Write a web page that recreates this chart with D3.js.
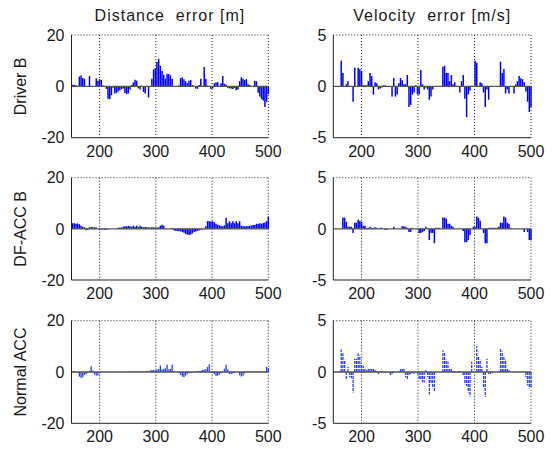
<!DOCTYPE html>
<html>
<head>
<meta charset="utf-8">
<script src="https://cdn.jsdelivr.net/npm/d3@7"></script>
<style>
  body { margin: 0; background: #fff; }
  svg text { font-family: "Liberation Sans", Arial, sans-serif; fill: #1a1a1a; }
</style>
</head>
<body>
<svg class="chart"></svg>
<script>
// sample times (s), one stem every 3 s
var times = d3.range(152, 501, 3);

var colTitles = ["Distance  error [m]", "Velocity  error [m/s]"];
var rowLabels = ["Driver B", "DF-ACC B", "Normal ACC"];
var xTicks = [200, 300, 400, 500];
var distTicks = [-20, 0, 20];
var velTicks = [-5, 0, 5];

var distDriver = [
    0.6, 0.6, 0.4, 0, 3.8, 4.2, 3.2, 3.0, 0, 0,
    4.0, 0, 0, 0, 3.1, 2.2, 2.8, 2.5, 0.3, 0,
    -1, -4.8, -5, -3.5, -0.5, -2.8, -2.5, -2.0, -1.5, -1,
    -0.8, -2.6, -3, -2.8, -1.2, 0.5, 1.5, 2.6, 2.2, -0.8,
    -1.2, 0, -2.2, -2.8, 0, -4.3, 0, 3, 6.6, 7,
    9.5, 10.7, 8, 6, 4.5, 3, 4.9, 4.8, 4.3, 3.0,
    0, 0, 0, 0.3, 3.2, 3.5, 2.8, 2.0, 1.2, 2.2,
    2.5, 0.5, 0, -0.8, -1, 0.5, 3, 0, 7.5, 3,
    0.3, 0, -1, -0.8, 1.2, 1.5, 1.6, 0.2, 1.2, 4,
    1.0, 0.6, -0.5, -0.8, -0.8, -1, -0.6, -1.5, -1.2, 2,
    3.5, 3, 2.5, 2.8, 0.8, 0.5, 0, 0, 2.2, 2.0,
    -2.5, -4, -5, -5.5, -8, -6, -3
];

var velDriver = [
    0, 0, 0, 0, 2.5, 1.3, 0, 0.2, 0.5, 0,
    0, -1.5, 1.8, 0, 1.8, 1.7, 1.5, 0.1, 0.1, 0.1,
    0.5, 1.3, 1.0, -0.8, 0.4, 0.3, -0.3, -0.2, -0.1, 0.1,
    0.1, 0, 0, 0, -1.0, 0.8, -1.0, -0.8, 0.3, 0.8,
    0.6, 0.2, 0.2, 1.1, -2.0, -1.8, -0.8, -0.6, 0.1, -0.8,
    -0.8, 1.6, 0.2, -0.3, -0.1, -0.3, -1.3, -1.0, -0.3, 0,
    0, 0, 0, 0, 1.9, 2.0, 1.3, 1.3, 0.5, 1.1,
    0.2, 0.4, 0, 0, -0.6, 0.5, 1.1, -1.2, -3.0, -0.8,
    -0.4, 0, 0, 2.5, 2.3, 0, 0.4, 0.3, -0.6, -2.0,
    -0.3, -1.3, 0, 0, 0, 0, 0, 0, 2.4, 1.3,
    1.7, -0.7, -0.3, -0.7, 0, 0, -0.7, 0.2, 0.5, 1.0,
    0.8, 0.7, 0.4, -0.5, -1.5, -2.5, -2.0
];

var distDfacc = [
    2.2, 2.2, 2.0, 2.1, 1.8, 1.2, 0.8, 0.6, -0.5, -0.4,
    0.6, 0.7, 0.6, 0.6, 0.5, 0, -0.3, -0.2, -0.3, -0.4,
    -0.3, -0.2, 0, 0, 0, 0, 0.2, 0.4, 0.5, 0.5,
    0.8, 1.0, 1.0, 1.1, 1.0, 0.8, 1.2, 0.8, 1.2, 0.7,
    1.2, 0.8, 0.6, 0.7, 0.6, 0.6, 0.5, 0.6, 0.6, 0.5,
    0.5, 0.6, 1.2, 1.6, 1.2, 0, 0, 0, 0.1, 0.3,
    -0.5, -0.8, -0.8, -0.9, -1.0, -1.2, -1.5, -2.0, -2.2, -2.4,
    -2.2, -1.8, -1.2, -1.0, -0.8, -0.6, -0.3, -0.3, -0.2, 1.0,
    3.0, 3.0, 2.9, 3.0, 2.6, 2.0, 1.6, 1.4, 1.2, 1.0,
    1.4, 4.3, 2.2, 3.0, 2.2, 3.0, 2.2, 3.0, 2.2, 3.0,
    1.2, 1.0, 1.0, 1.0, 1.1, 1.2, 1.3, 1.5, 1.5, 2.0,
    2.0, 2.2, 2.0, 2.3, 2.5, 3.0, 4.8
];

var velDfacc = [
    0, 0, 0, 0, 0, 1.1, 1.1, 0.7, 0.2, 0.2,
    0.2, -0.4, 0.6, 0.6, 0.9, 0.8, 0.7, 0.3, 0.3, 0.1,
    0.1, 0.2, 0.1, 0.1, 0.15, 0.1, 0, 0.1, 0.1, 0,
    -0.1, -0.1, 0, 0, 0, 0.2, 0, 0, 0, 0,
    0.25, 0.25, 0.2, 0.1, -0.3, -0.3, 0.1, 0, 0, 0,
    -0.4, -0.4, -0.3, -0.2, 0.2, 0, -1.1, -0.4, -0.4, -1.4,
    0.1, 0.1, 0.1, 0, 1.1, 1.1, 1.0, 0.5, 0.5, 0.3,
    0.2, 0, 0, 0, 0, 0, -0.2, -1.3, -1.3, -1.1,
    -0.6, 0, 0.2, 0.2, 1.2, 1.1, 0.8, 0, -0.4, -1.4,
    -1.4, 0.1, 0.1, 0.1, 0.1, 0.1, 0.1, 0.2, 0.6, 0.6,
    1.2, 1.1, 0.6, 0.5, 0.1, 0, 0, 0, 0, 0,
    0, 0, -0.3, 0, -0.3, -1.1, -1.1
];

var distNormal = [
    0.3, 0.3, 0.2, -0.3, -1.8, -2.3, -2.0, -1.2, -0.8, -0.3,
    0.5, 2.2, 0.6, -1.0, -1.5, -1.4, -0.5, 0.2, 0.1, 0.1,
    0, 0, 0.1, 0.1, 0, -0.1, -0.1, 0, 0.1, 0.1,
    0.1, 0, 0, -0.1, 0.1, 0.1, 0.2, 0.2, 0.1, 0.1,
    0.1, 0.2, 0.2, 0.3, 0.5, 0.3, 0.6, 0.8, 0.8, 0.7,
    1.0, 1.2, 2.5, 1.0, 1.2, 1.5, 2.8, 1.0, 1.2, 2.8,
    0.1, 0, 0, -0.3, -1.2, -1.8, -2.0, -1.4, -0.8, -0.5,
    -0.4, -0.3, 0.1, 0.2, 0.3, 0.4, 0.5, 0.8, 1.0, 1.2,
    2.0, 3.0, -0.3, -0.4, -0.8, -1.6, -1.5, -1.0, -0.5, -0.2,
    1.3, 2.8, 1.0, -0.8, -0.8, -0.6, -0.4, 0, 0, -1.3,
    -1.8, -1.5, -0.6, 0.1, 0.2, 0.2, 0.2, 0.1, 0.2, 0.2,
    0.2, 0.2, 0.3, 0.2, 0.3, 2.0, 1.5
];

var velNormal = [
    0, 0, 0, 0.1, 2.2, 1.8, 1.2, -0.7, 0.5, -0.5,
    -0.6, -2.0, 1.3, 1.3, 1.8, 1.6, 0.8, 0.6, 0.3, 0.2,
    0.3, 0.4, 0.3, 0.4, 0.2, 0.1, -0.2, 0.1, -0.1, 0.1,
    -0.1, 0, 0, -0.3, -0.2, 0.1, 0, 0, 0.1, 0.3,
    0.4, 0.3, -0.5, -0.8, -0.3, -0.2, -0.1, -0.2, 0, -0.2,
    -0.8, -0.7, -1.0, -1.0, 0.2, -0.5, -2.2, -1.2, -1.5, -1.9,
    0, 0, 0, 0, 2.1, 1.9, 1.2, 1.0, 0.4, 0.3,
    0.1, 0.1, 0, 0.1, 0.1, 0, -0.3, -1.2, -1.4, -2.0,
    -2.4, 1.0, 0, 0, 2.5, 1.5, 1.2, 0.5, -1.5, -2.4,
    1.3, -0.2, -0.2, -0.1, 0, 0, 0, 0, 2.3, 2.0,
    1.5, 1.2, 0.3, 0.2, 0, 0, 0, 0, 0, 0,
    0, 0, 0, -0.5, -1.3, -1.6, -1.5
];

var width = 556, height = 449;

var cols = [{x0: 71.5, x1: 268.3}, {x0: 333.3, x1: 531}];
var rows = [{y0: 35, y1: 137.7}, {y0: 177.7, y1: 280}, {y0: 320.7, y1: 423.3}];

var panels = [
    {row: 0, col: 0, values: distDriver, ticks: distTicks},
    {row: 0, col: 1, values: velDriver, ticks: velTicks},
    {row: 1, col: 0, values: distDfacc, ticks: distTicks},
    {row: 1, col: 1, values: velDfacc, ticks: velTicks},
    {row: 2, col: 0, values: distNormal, ticks: distTicks, light: true},
    {row: 2, col: 1, values: velNormal, ticks: velTicks, light: true, dashed: true}
];

var svg = d3.select(".chart")
    .attr("width", width)
    .attr("height", height);

svg.append("rect")
    .attr("width", width)
    .attr("height", height)
    .attr("fill", "#fff");

function drawPanel(p) {
    var c = cols[p.col], r = rows[p.row];

    var x = d3.scaleLinear()
        .domain([150, 500])
        .range([c.x0, c.x1]);

    var y = d3.scaleLinear()
        .domain([p.ticks[0], p.ticks[2]])
        .range([r.y1, r.y0]);

    var g = svg.append("g");

    // dotted grid (vertical at x ticks, horizontal at the top)
    g.selectAll(".vgrid")
        .data(xTicks)
        .enter().append("line")
        .attr("x1", function(d) { return x(d); })
        .attr("x2", function(d) { return x(d); })
        .attr("y1", r.y0)
        .attr("y2", r.y1)
        .attr("stroke", "#222")
        .attr("stroke-width", 1)
        .attr("stroke-dasharray", "1,2");

    g.append("line")
        .attr("x1", c.x0).attr("x2", c.x1)
        .attr("y1", y(p.ticks[2])).attr("y2", y(p.ticks[2]))
        .attr("stroke", "#222")
        .attr("stroke-width", 1)
        .attr("stroke-dasharray", "1,2");

    // stems
    var stems = times.map(function(t, i) { return {t: t, v: p.values[i]}; })
        .filter(function(d) { return d.v !== 0; });

    g.append("g")
        .selectAll("line")
        .data(stems)
        .enter().append("line")
        .attr("x1", function(d) { return x(d.t); })
        .attr("x2", function(d) { return x(d.t); })
        .attr("y1", y(0))
        .attr("y2", function(d) { return y(d.v); })
        .attr("stroke", p.light ? "#2b3dff" : "#0000ff")
        .attr("stroke-width", p.light ? 1.3 : 1.5)
        .attr("stroke-dasharray", p.dashed ? "3,1" : null);

    // baseline
    g.append("line")
        .attr("x1", c.x0).attr("x2", c.x1)
        .attr("y1", y(0)).attr("y2", y(0))
        .attr("stroke", "#555")
        .attr("stroke-width", 1.3);

    // solid left / bottom axes
    g.append("path")
        .attr("d", "M" + c.x0 + "," + r.y0 + "V" + r.y1 + "H" + c.x1)
        .attr("fill", "none")
        .attr("stroke", "#222")
        .attr("stroke-width", 1);

    // y tick labels
    g.selectAll(".ylab")
        .data(p.ticks)
        .enter().append("text")
        .attr("x", c.x0 - 7)
        .attr("y", function(d) { return y(d); })
        .attr("dy", "0.36em")
        .attr("text-anchor", "end")
        .attr("font-size", 16)
        .text(function(d) { return d; });

    // x tick labels
    g.selectAll(".xlab")
        .data(xTicks)
        .enter().append("text")
        .attr("x", function(d) { return x(d); })
        .attr("y", r.y1 + 19)
        .attr("text-anchor", "middle")
        .attr("font-size", 16)
        .text(function(d) { return d; });
}

panels.forEach(drawPanel);

// column titles
svg.selectAll(".title")
    .data(colTitles)
    .enter().append("text")
    .attr("x", function(d, i) { return (cols[i].x0 + cols[i].x1) / 2; })
    .attr("y", 20.5)
    .attr("text-anchor", "middle")
    .attr("font-size", 16)
    .attr("letter-spacing", 1)
    .style("white-space", "pre")
    .text(function(d) { return d; });

// row labels
svg.selectAll(".rowlab")
    .data(rowLabels)
    .enter().append("text")
    .attr("transform", function(d, i) {
        return "translate(26," + (rows[i].y0 + rows[i].y1) / 2 + ") rotate(-90)";
    })
    .attr("text-anchor", "middle")
    .attr("font-size", 16)
    .text(function(d) { return d; });
</script>
</body>
</html>
